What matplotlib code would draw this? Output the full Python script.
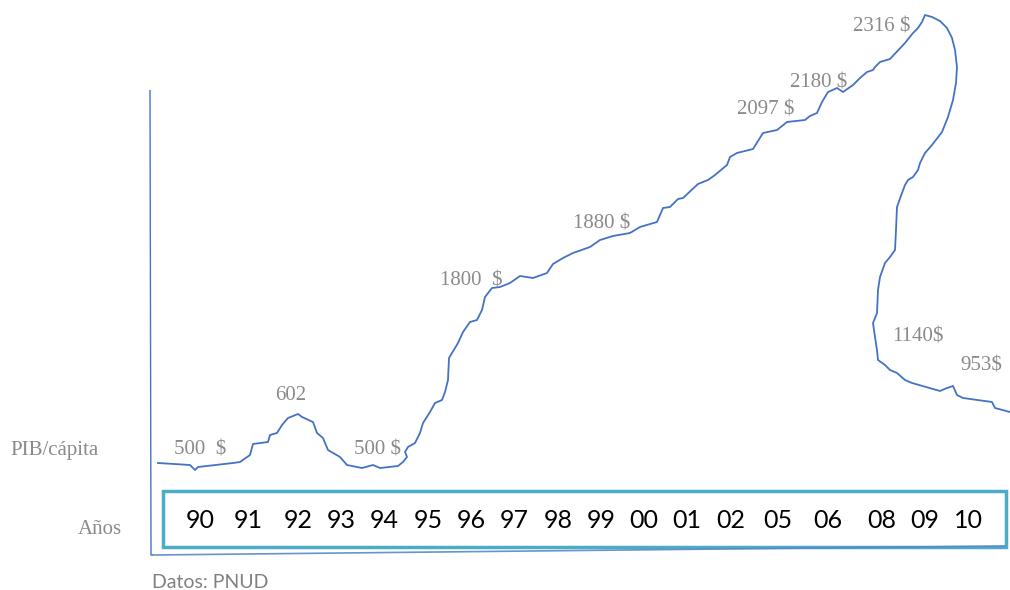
import matplotlib
matplotlib.use("Agg")
import matplotlib.pyplot as plt

# ---- data (in picture units) ----
curve_x = [158, 190, 195, 198, 233, 240, 250, 253, 268, 270, 277, 282, 288, 298, 302, 313, 317, 323,
           328, 340, 347, 362, 373, 380, 398, 403, 407, 405, 408, 415, 420, 423, 430, 435, 442, 445,
           448, 449, 455, 458, 463, 470, 477, 482, 485, 492, 500, 510, 520, 533, 547, 553, 563, 573,
           590, 600, 613, 630, 640, 657, 663, 670, 678, 683, 698, 708, 715, 727, 730, 737, 753, 763,
           777, 787, 805, 810, 817, 822, 828, 837, 843, 853, 860, 867, 873, 875, 880, 890, 905, 913,
           918, 922, 925, 932, 940, 947, 952, 955, 957, 956, 953, 948, 942, 932, 925, 920, 918, 913,
           908, 905, 902, 897, 896, 895, 890, 885, 880, 878, 877, 873, 875, 877, 878, 885, 890, 897,
           905, 912, 940, 947, 953, 957, 963, 992, 995, 1010]
curve_y = [463, 465, 470, 467, 463, 462, 455, 444, 442, 435, 433, 425, 418, 414, 417, 422, 433, 438,
           450, 457, 465, 468, 465, 468, 466, 462, 457, 452, 447, 443, 433, 423, 412, 403, 400, 392,
           380, 358, 348, 343, 332, 322, 320, 310, 297, 288, 287, 283, 276, 278, 273, 264, 258, 253,
           247, 240, 236, 233, 227, 222, 208, 207, 199, 198, 184, 180, 175, 165, 157, 153, 149, 133,
           130, 122, 120, 116, 113, 102, 92, 88, 92, 85, 78, 72, 70, 67, 62, 59, 43, 33,
           28, 22, 15, 17, 21, 28, 38, 50, 67, 83, 100, 117, 132, 145, 153, 163, 170, 177,
           180, 185, 193, 207, 230, 250, 257, 263, 277, 290, 313, 323, 337, 350, 360, 365, 370, 373,
           380, 383, 391, 388, 386, 395, 398, 402, 408, 412]

value_labels = ["500  $", "602", "500 $", "1800  $", "1880 $", "2097 $", "2180 $", "2316 $", "1140$", "953$"]
years = ["90", "91", "92", "93", "94", "95", "96", "97", "98", "99", "00", "01", "02", "05", "06", "08", "09", "10"]

# ---- layout ----
value_label_pos = [(174, 450, "left"), (291, 395, "center"), (354, 450, "left"), (440, 281, "left"),
                   (573, 224, "left"), (737, 110, "left"), (790, 83, "left"), (853, 27, "left"),
                   (892, 337, "left"), (960, 366, "left")]
year_x = [200, 248, 298, 341, 384, 428, 471, 514, 558, 601, 644, 687, 731, 778, 828, 882, 925, 968]

W, H = 1010, 590
fig = plt.figure(figsize=(W / 100, H / 100), dpi=100)
ax = fig.add_axes([0, 0, 1, 1])
ax.set_xlim(0, W)
ax.set_ylim(H, 0)
ax.axis("off")

blue = "#4472C4"
gray = "#8a8a8a"
teal = "#4BACC6"

# axes lines
ax.plot([150, 151, 153], [90, 555, 555], color=blue, lw=1.0, solid_capstyle="butt")
ax.plot([153, 1005], [555, 546], color="#5B86C8", lw=1.2, alpha=0.9)

# curve
ax.plot(curve_x, curve_y, color=blue, lw=1.3, solid_joinstyle="round")

# value labels
for txt, (x, y, ha) in zip(value_labels, value_label_pos):
    ax.text(x, y, txt, ha=ha, va="center", fontsize=15, color=gray, family="Liberation Serif")

# year box
box = plt.Rectangle((163, 491), 1006 - 163, 547 - 491, fill=False, edgecolor=teal, lw=2.5)
ax.add_patch(box)
for x, y in zip(year_x, years):
    ax.text(x, 521, y, ha="center", va="center", fontsize=18, color="black", family="Lato")

ax.text(10, 450, "PIB/cápita", ha="left", va="center", fontsize=15, color=gray, family="Liberation Serif")
ax.text(78, 530, "Años", ha="left", va="center", fontsize=15, color=gray, family="Liberation Serif")
ax.text(152, 582, "Datos: PNUD", ha="left", va="center", fontsize=14, color="#808080", family="Lato")

fig.savefig("out.png", dpi=100)
